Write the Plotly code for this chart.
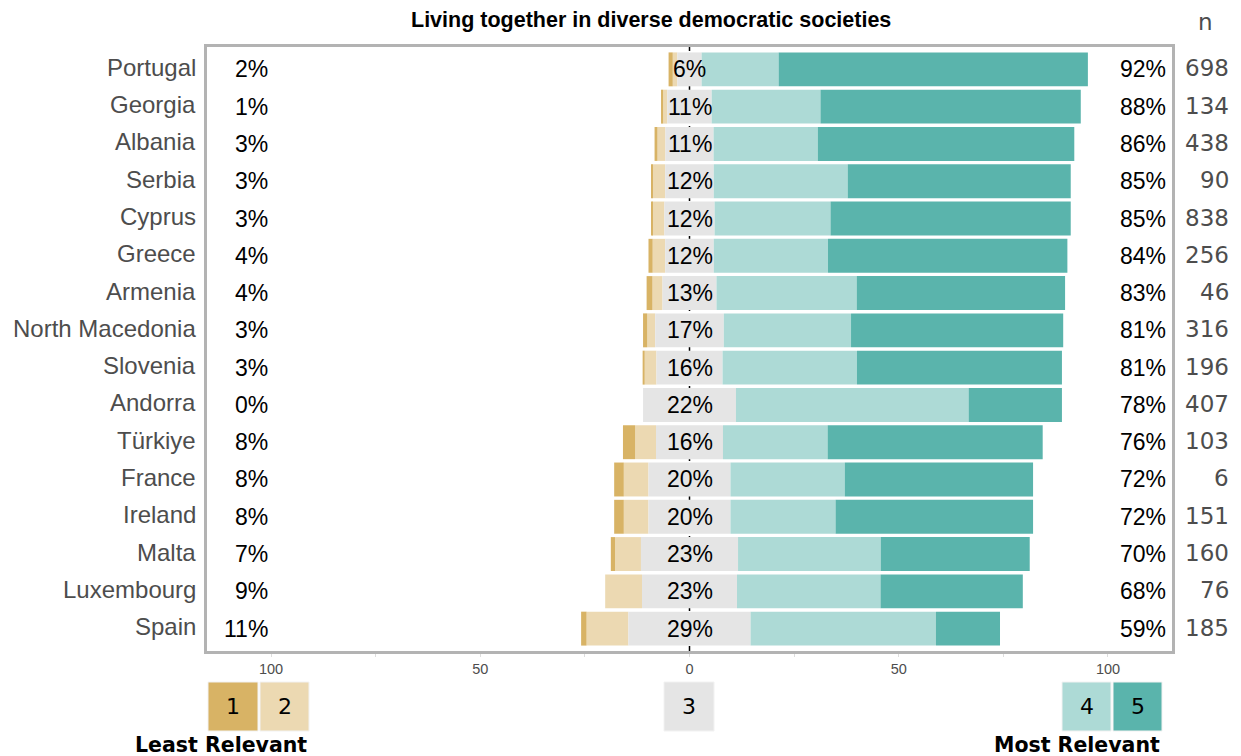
import plotly.graph_objects as go

# ---------------- data ----------------
countries = ["Portugal", "Georgia", "Albania", "Serbia", "Cyprus", "Greece", "Armenia",
             "North Macedonia", "Slovenia", "Andorra", "Türkiye", "France", "Ireland",
             "Malta", "Luxembourg", "Spain"]
n_resp = [698, 134, 438, 90, 838, 256, 46, 316, 196, 407, 103, 6, 151, 160, 76, 185]

lvl1 = [1.0, 0.5, 0.7, 0.3, 0.2, 1.0, 1.4, 1.0, 0.5, 0.0, 2.9, 2.3, 2.3, 1.0, 0.0, 1.3]
lvl2 = [1.1, 1.0, 1.9, 3.0, 2.9, 3.0, 2.4, 1.9, 2.8, 0.0, 5.0, 5.9, 5.9, 6.2, 8.8, 10.0]
lvl3 = [5.8, 10.6, 11.5, 11.6, 12.0, 11.6, 12.9, 16.4, 15.8, 22.2, 16.0, 19.6, 19.6, 23.2, 22.7, 29.2]
lvl4 = [18.4, 26.0, 24.9, 32.0, 27.7, 27.3, 33.5, 30.4, 32.1, 55.6, 25.0, 27.3, 25.1, 34.1, 34.3, 44.3]
lvl5 = [73.9, 62.2, 61.3, 53.3, 57.4, 57.2, 49.8, 50.7, 49.0, 22.3, 51.4, 45.0, 47.2, 35.6, 34.0, 15.3]

left_pct = [2, 1, 3, 3, 3, 4, 4, 3, 3, 0, 8, 8, 8, 7, 9, 11]
mid_pct = [6, 11, 11, 12, 12, 12, 13, 17, 16, 22, 16, 20, 20, 23, 23, 29]
right_pct = [92, 88, 86, 85, 85, 84, 83, 81, 81, 78, 76, 72, 72, 70, 68, 59]

level_names = ["1", "2", "3", "4", "5"]
colors = ["#D8B365", "#ECD9B2", "#E5E5E5", "#ADDAD6", "#5AB4AC"]

x_tickvals = [-100, -50, 0, 50, 100]
x_ticktext = ["100", "50", "0", "50", "100"]

title = "Living together in diverse democratic societies"

# ---------------- geometry ----------------
W, H = 1241, 756
ML, MR, MT, MB = 207, 69, 47, 105
PW, PH = W - ML - MR, H - MT - MB
XR = [-115.3, 115.3]


def px2x(px):
    return XR[0] + (px - ML) / PW * (XR[1] - XR[0])


def px2paper(px):
    return (px - ML) / PW


def py2paper(py):
    return 1 - (py - MT) / PH


fig = go.Figure()

half = [v / 2 for v in lvl3]
fig.add_trace(go.Bar(y=countries, x=[-v for v in lvl2], base=[-h for h in half],
                     orientation="h", marker=dict(color=colors[1], line=dict(width=0)),
                     width=0.91, name="2", showlegend=False))
fig.add_trace(go.Bar(y=countries, x=[-v for v in lvl1],
                     base=[-h - b for h, b in zip(half, lvl2)],
                     orientation="h", marker=dict(color=colors[0], line=dict(width=0)),
                     width=0.91, name="1", showlegend=False))
fig.add_trace(go.Bar(y=countries, x=lvl3, base=[-h for h in half],
                     orientation="h", marker=dict(color=colors[2], line=dict(width=0)),
                     width=0.91, name="3", showlegend=False))
fig.add_trace(go.Bar(y=countries, x=lvl4, base=half,
                     orientation="h", marker=dict(color=colors[3], line=dict(width=0)),
                     width=0.91, name="4", showlegend=False))
fig.add_trace(go.Bar(y=countries, x=lvl5, base=[h + b for h, b in zip(half, lvl4)],
                     orientation="h", marker=dict(color=colors[4], line=dict(width=0)),
                     width=0.91, name="5", showlegend=False))

ann = []
lab_font = "Liberation Sans, Arial, Helvetica, sans-serif"
dv_font = "DejaVu Sans, Verdana, sans-serif"
for i, c in enumerate(countries):
    ann.append(dict(x=px2paper(198), y=c, xref="paper", yref="y", text=c, showarrow=False,
                    xanchor="right", yanchor="middle", yshift=2,
                    font=dict(family=lab_font, size=24, color="#4D4D4D")))
    ann.append(dict(x=px2x(270), y=c, xref="x", yref="y", text=f"{left_pct[i]}%",
                    showarrow=False, xanchor="right", yanchor="middle",
                    font=dict(family=lab_font, size=23, color="black")))
    ann.append(dict(x=0, y=c, xref="x", yref="y", text=f"{mid_pct[i]}%",
                    showarrow=False, xanchor="center", yanchor="middle",
                    font=dict(family=lab_font, size=23, color="black")))
    ann.append(dict(x=px2x(1168), y=c, xref="x", yref="y", text=f"{right_pct[i]}%",
                    showarrow=False, xanchor="right", yanchor="middle",
                    font=dict(family=lab_font, size=23, color="black")))
    ann.append(dict(x=px2paper(1231), y=c, xref="paper", yref="y", text=str(n_resp[i]),
                    showarrow=False, xanchor="right", yanchor="middle", yshift=1,
                    font=dict(family=dv_font, size=23, color="#4D4D4D")))

ann.append(dict(x=px2paper(1205), y=py2paper(22), xref="paper", yref="paper", text="n",
                showarrow=False, xanchor="center", yanchor="middle",
                font=dict(family=dv_font, size=23, color="#4D4D4D")))
ann.append(dict(x=px2paper(651), y=py2paper(20), xref="paper", yref="paper",
                text=f"<b>{title}</b>", showarrow=False, xanchor="center", yanchor="middle",
                font=dict(family=lab_font, size=21.5, color="black")))

shapes = [dict(type="line", xref="x", yref="paper", x0=0, x1=0, y0=0, y1=1,
               layer="below", line=dict(color="black", width=1.5, dash="5px,5px"))]

# legend boxes below the plot
box_px = [(208, 258), (260, 309), (664, 714), (1062, 1111), (1113, 1162)]
y0b, y1b = py2paper(731), py2paper(682)
for (a, b), col, lab in zip(box_px, colors, level_names):
    shapes.append(dict(type="rect", xref="paper", yref="paper", x0=px2paper(a), x1=px2paper(b),
                       y0=y0b, y1=y1b, fillcolor=col, line=dict(color="#F2F2F2", width=1)))
    ann.append(dict(x=px2paper((a + b) / 2), y=(y0b + y1b) / 2, xref="paper", yref="paper",
                    text=lab, showarrow=False, xanchor="center", yanchor="middle",
                    font=dict(family=dv_font, size=22, color="black")))

ann.append(dict(x=px2paper(309), y=py2paper(745), xref="paper", yref="paper",
                text="<b>Least Relevant</b>", showarrow=False, xanchor="right", yanchor="middle",
                font=dict(family=dv_font, size=20.5, color="black")))
ann.append(dict(x=px2paper(1162), y=py2paper(745), xref="paper", yref="paper",
                text="<b>Most Relevant</b>", showarrow=False, xanchor="right", yanchor="middle",
                font=dict(family=dv_font, size=20.5, color="black")))

fig.update_layout(
    width=W, height=H,
    margin=dict(l=ML, r=MR, t=MT, b=MB, pad=0),
    paper_bgcolor="white", plot_bgcolor="white",
    barmode="overlay", bargap=0.09,
    showlegend=False,
    annotations=ann, shapes=shapes,
    xaxis=dict(range=XR, tickvals=x_tickvals, ticktext=x_ticktext,
               tickfont=dict(family=lab_font, size=14.5, color="#4D4D4D"),
               showgrid=False, zeroline=False,
               showline=True, mirror=True, linecolor="#B3B3B3", linewidth=2.5,
               ticks="outside", ticklen=3, tickcolor="#DDDDDD",
               minor=dict(dtick=25, tick0=0, ticks="outside", ticklen=3, tickcolor="#DDDDDD"),
               fixedrange=True),
    yaxis=dict(type="category", categoryorder="array", categoryarray=countries[::-1],
               range=[-0.6, 15.6], showticklabels=False, ticks="",
               showgrid=False, zeroline=False,
               showline=True, mirror=True, linecolor="#B3B3B3", linewidth=2.5,
               fixedrange=True),
)

fig.write_html("out.html", config={"displayModeBar": False},
               post_script="document.body.style.margin='0px';")
